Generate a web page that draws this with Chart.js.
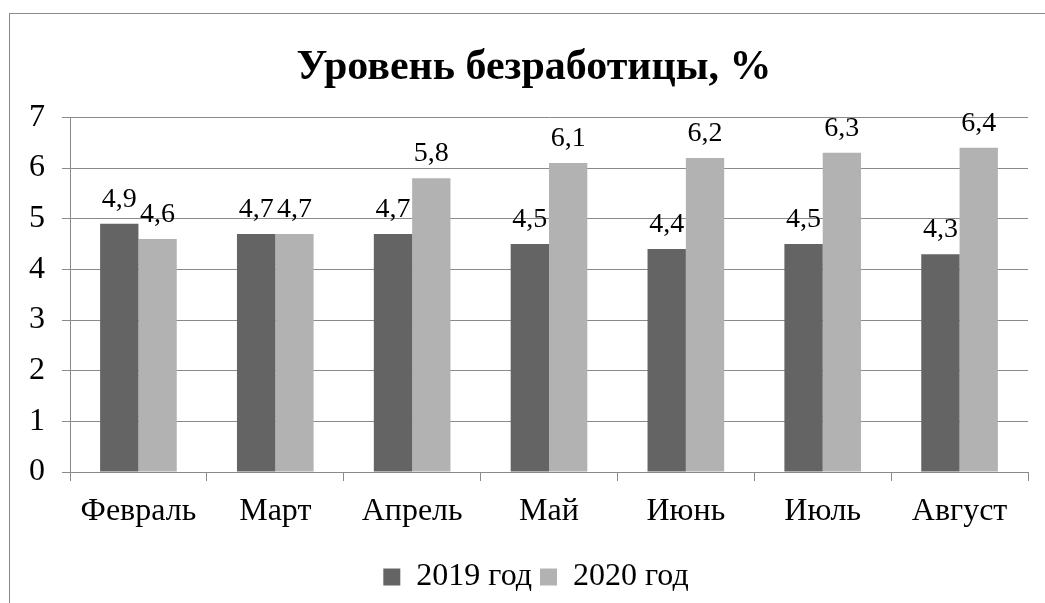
<!DOCTYPE html>
<html><head><meta charset="utf-8">
<script src="https://cdn.jsdelivr.net/npm/chart.js@4"></script>
<style>html,body{margin:0;padding:0;background:#fff}#wrap{width:1045px;height:603px;position:relative}</style>
</head><body><div id="wrap"><canvas id="c" width="1045" height="603"></canvas></div>
<script>
const categories = ["Февраль","Март","Апрель","Май","Июнь","Июль","Август"];
const values2019 = [4.9,4.7,4.7,4.5,4.4,4.5,4.3];
const values2020 = [4.6,4.7,5.8,6.1,6.2,6.3,6.4];
const yTicks = [0,1,2,3,4,5,6,7];
const FONT = "'Liberation Serif','Times New Roman',serif";

const framePlugin = {
  id:'frame',
  beforeDraw(chart){
    const ctx = chart.ctx; ctx.save();
    ctx.fillStyle='#fff'; ctx.fillRect(0,0,chart.width,chart.height);
    ctx.strokeStyle='#8a8a8a'; ctx.lineWidth=1;
    ctx.strokeRect(9.5,13.5,1200,800);
    ctx.restore();
  }
};
const shiftPlugin = {
  id:'shiftBlocks',
  afterLayout(chart){
    if (chart.titleBlock) chart.titleBlock.left += 40;
    if (chart.legend) chart.legend.left += 44;
  }
};
const labelPlugin = {
  id:'vlabels',
  afterDatasetsDraw(chart){
    const ctx = chart.ctx; ctx.save();
    ctx.font = "28px " + FONT; ctx.fillStyle='#000';
    ctx.textAlign='center'; ctx.textBaseline='alphabetic';
    chart.data.datasets.forEach((ds,i)=>{
      chart.getDatasetMeta(i).data.forEach((bar,j)=>{
        ctx.fillText(String(ds.data[j]).replace('.',','), bar.x, bar.y-17);
      });
    });
    ctx.restore();
  }
};

new Chart(document.getElementById('c'),{
  type:'bar',
  data:{labels:categories,datasets:[
    {label:'2019 год',data:values2019,backgroundColor:'#646464',borderWidth:0},
    {label:'2020 год',data:values2020,backgroundColor:'#b2b2b2',borderWidth:0}
  ]},
  options:{
    responsive:false,animation:false,
    layout:{padding:{top:13,left:0,right:17,bottom:0}},
    plugins:{
      title:{display:true,text:'Уровень безработицы, %',color:'#000',
        font:{family:FONT,size:42,weight:'bold'},padding:{top:30,bottom:24}},
      legend:{position:'bottom',labels:{color:'#000',font:{family:FONT,size:32},
        boxWidth:17,boxHeight:17,padding:8}},
      tooltip:{enabled:false}
    },
    datasets:{bar:{categoryPercentage:0.56,barPercentage:1}},
    scales:{
      x:{afterFit(s){s.height=81;},
         grid:{drawOnChartArea:false,drawTicks:true,tickLength:9,color:'#8a8a8a',offset:true},
         border:{color:'#8a8a8a'},
         ticks:{color:'#000',font:{family:FONT,size:32},padding:11,maxRotation:0}},
      y:{min:0,max:7,afterFit(s){s.width=70;},
         afterBuildTicks(s){s.ticks=yTicks.map(v=>({value:v}));},
         grid:{color:'#8a8a8a',tickLength:8},border:{color:'#8a8a8a'},
         ticks:{color:'#000',font:{family:FONT,size:32},padding:17}}
    }
  },
  plugins:[framePlugin,shiftPlugin,labelPlugin]
});
</script></body></html>
